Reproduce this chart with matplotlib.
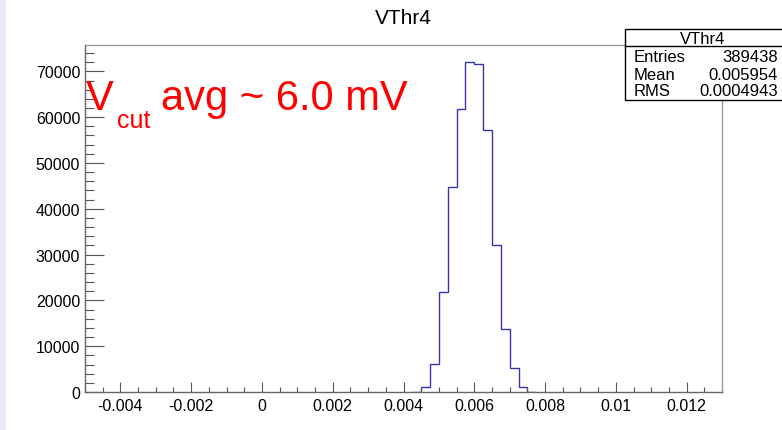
import matplotlib.pyplot as plt
from matplotlib.ticker import MultipleLocator, FuncFormatter
from matplotlib.patches import Rectangle
from matplotlib.lines import Line2D

plt.rcParams['font.family'] = ['Liberation Sans', 'DejaVu Sans']

# ----------------------------
# DATA
# ----------------------------
hist_name = "VThr4"
bin_edges = [0.00425, 0.0045, 0.00475, 0.005, 0.00525, 0.0055, 0.00575, 0.006,
             0.00625, 0.0065, 0.00675, 0.007, 0.00725, 0.0075, 0.00775]
bin_counts = [100, 1030, 6140, 21860, 44670, 61840, 72150, 71560,
              57170, 32090, 13820, 5190, 1030, 100]
x_range = (-0.005, 0.013)
stats_labels = ["Entries", "Mean", "RMS"]
stats_values = ["389438", "0.005954", "0.0004943"]
note_main = "V"
note_sub = "cut"
note_rest = "avg ~ 6.0 mV"

W, H = 782, 431


def fx(px):
    return px / W


def fy(py):
    return 1 - py / H


fig = plt.figure(figsize=(W / 100, H / 100), dpi=100)

# lavender strip on the left edge
fig.add_artist(Rectangle((0, 0), fx(6), 1, transform=fig.transFigure,
                         facecolor="#e6e9f6", edgecolor="none"))

ax = fig.add_axes([fx(85), fy(393), fx(722) - fx(85), fy(46) - fy(393)])

ax.stairs(bin_counts, bin_edges, color="#3535b0", linewidth=1)

ax.set_xlim(*x_range)
ax.set_ylim(0, max(bin_counts) * 1.05)

ax.xaxis.set_major_locator(MultipleLocator(0.002))
ax.xaxis.set_minor_locator(MultipleLocator(0.0005))
ax.yaxis.set_major_locator(MultipleLocator(10000))
ax.yaxis.set_minor_locator(MultipleLocator(2000))

ax.xaxis.set_major_formatter(FuncFormatter(lambda v, p: f"{round(v, 6) + 0:g}"))
ax.yaxis.set_major_formatter(FuncFormatter(lambda v, p: f"{int(round(v))}"))

ax.tick_params(axis="x", which="major", direction="in", length=7.5, width=0.8,
               color="#555555", pad=4.5, labelsize=11.5)
ax.tick_params(axis="x", which="minor", direction="in", length=3.8, width=0.8,
               color="#555555")
ax.tick_params(axis="y", which="major", direction="in", length=13.7, width=0.8,
               color="#555555", pad=3.5, labelsize=11.5)
ax.tick_params(axis="y", which="minor", direction="in", length=6.8, width=0.8,
               color="#555555")

for side in ["left", "bottom"]:
    ax.spines[side].set_color("#666666")
for side in ["top", "right"]:
    ax.spines[side].set_color("#999999")
for s in ax.spines.values():
    s.set_linewidth(1)

# title
fig.text(fx(403), fy(19), hist_name, ha="center", va="center", fontsize=15)

# annotation
fig.text(fx(86), fy(110), note_main, color="red", fontsize=30, va="baseline")
fig.text(fx(117), fy(128), note_sub, color="red", fontsize=18, va="baseline")
fig.text(fx(161), fy(110), note_rest, color="red", fontsize=30, va="baseline")

# ----------------------------
# STATS BOX
# ----------------------------
bx0, bx1, by0, by1 = 625, 784, 30, 101
fig.add_artist(Rectangle((fx(bx0), fy(by1)), fx(bx1) - fx(bx0), fy(by0) - fy(by1),
                         transform=fig.transFigure, facecolor="white",
                         edgecolor="black", linewidth=1, zorder=5))
fig.add_artist(Line2D([fx(bx0), fx(bx1)], [fy(47), fy(47)],
                      transform=fig.transFigure, color="black", linewidth=1, zorder=6))
fig.text(fx(703), fy(39), hist_name, ha="center", va="center", fontsize=12, zorder=7)

row_y = [58, 75, 92]
for lab, val, yy in zip(stats_labels, stats_values, row_y):
    fig.text(fx(634), fy(yy), lab, ha="left", va="center", fontsize=12, zorder=7)
    fig.text(fx(778), fy(yy), val, ha="right", va="center", fontsize=12, zorder=7)

fig.savefig("out.png", dpi=100, facecolor="white")
